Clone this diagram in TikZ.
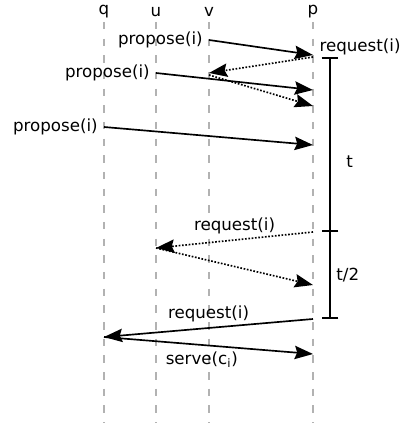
\documentclass[tikz,border=0pt]{standalone}
\usepackage{fontspec}
\setmainfont{DejaVu Sans}
\usetikzlibrary{arrows.meta}

\tikzset{
    msg/.style={-{Stealth[length=11pt, width=8pt, inset=1.5pt]}, line width=1pt},
    reply/.style={msg, densely dotted},
    lifeline/.style={draw=gray!60, dash pattern=on 4.5pt off 5.5pt, line width=0.8pt},
    span/.style={{Bar[width=10pt]}-{Bar[width=10pt]}, line width=1pt},
    halfspan/.style={-{Bar[width=10pt]}, line width=1pt},
}

\begin{document}
\begin{tikzpicture}[x=0.6pt, y=-0.6pt, font=\fontsize{10}{12}\selectfont]
    \useasboundingbox (0, 0) rectangle (401, 423);

    \node (q) at (104, 12) {q};
    \node (u) at (156, 12) {u};
    \node (v) at (209, 12) {v};
    \node (p) at (313, 12) {p};

    \draw[lifeline] (q) ++(0, 10) -- ++(0, 401);
    \draw[lifeline] (u) ++(0, 10) -- ++(0, 401);
    \draw[lifeline] (v) ++(0, 10) -- ++(0, 401);
    \draw[lifeline] (p) ++(0, 10) -- ++(0, 401);

    \coordinate (v1) at (209, 40);
    \coordinate (p1) at (313, 55);
    \coordinate (p2) at (313, 57);
    \coordinate (v2) at (209, 73);
    \coordinate (u1) at (156, 73);
    \coordinate (p3) at (313, 90);
    \coordinate (v3) at (209, 75);
    \coordinate (p4) at (313, 106);
    \coordinate (q1) at (104, 127);
    \coordinate (p5) at (313, 145);
    \coordinate (p6) at (313, 232);
    \coordinate (u2) at (156, 248);
    \coordinate (p7) at (313, 285);
    \coordinate (p8) at (313, 319);
    \coordinate (q2) at (104, 337);
    \coordinate (p9) at (313, 354);

    \node (request) at (360, 47) {request(i)};

    \draw[msg] (v1) node[left] {propose(i)} -- (p1);
    \draw[reply] (p2) -- (v2);
    \draw[msg] (u1) node[left] {propose(i)} -- (p3);
    \draw[reply] (v3) -- (p4);
    \draw[msg] (q1) node[left] {propose(i)} -- (p5);

    \draw[reply] (p6) to node[midway, above] {request(i)} (u2);
    \draw[reply] (u2) -- (p7);
    \draw[msg] (p8) to node[midway, above] {request(i)} (q2);
    \draw[msg] (q2) to node[midway, below, xshift=-4pt] {serve(c\textsubscript{i})} (p9);

    % timeout bars
    \coordinate (t0) at (330, 57);
    \coordinate (t1) at (330, 232);
    \coordinate (t2) at (330, 319);
    \draw[span] (t0) to node[pos=0.6, right=6pt] {t} (t1);
    \draw[halfspan] (t1) to node[midway, right] {t/2} (t2);
\end{tikzpicture}
\end{document}
